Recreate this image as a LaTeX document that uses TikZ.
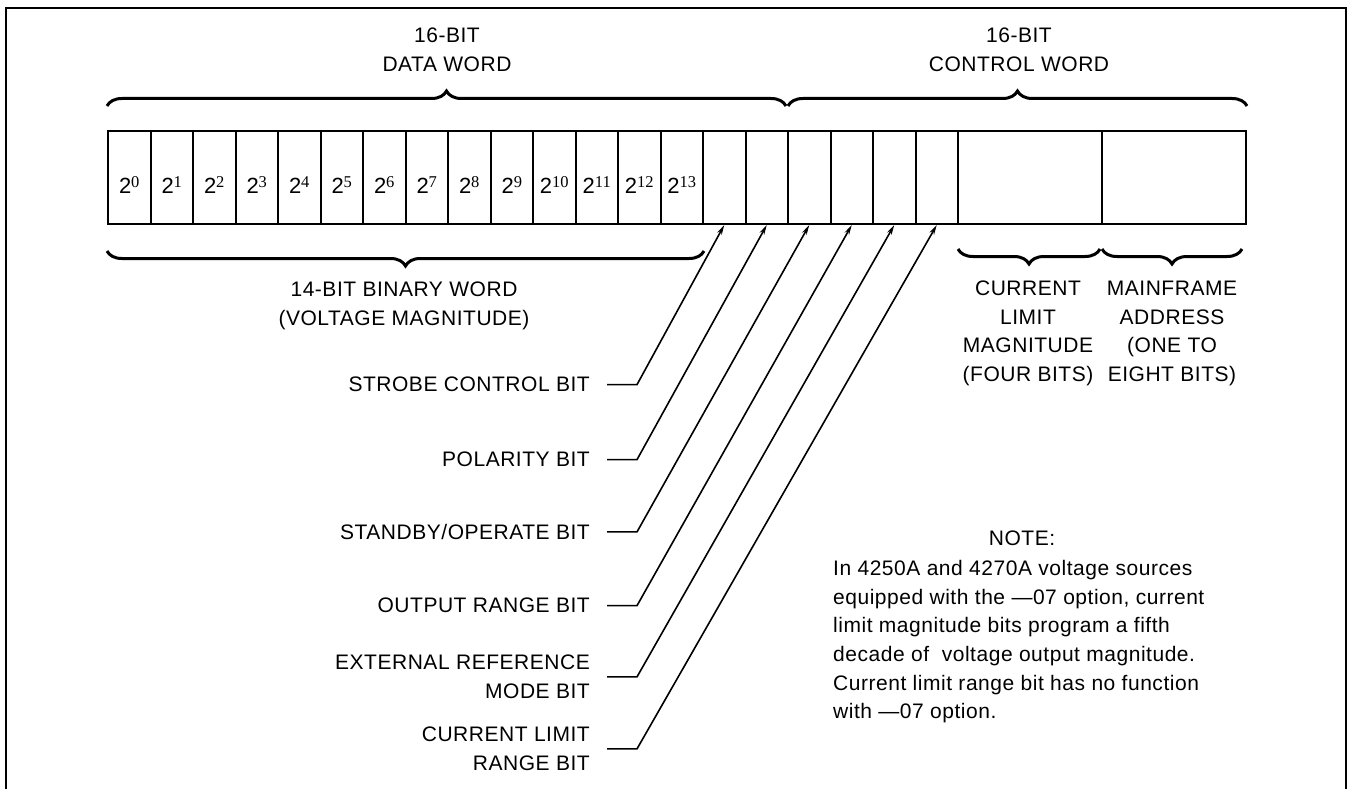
\documentclass[tikz,border=0pt]{standalone}
\usepackage{fontspec}
\setmainfont{Liberation Sans}[LetterSpace=2.5]
\newfontfamily\serifsup{Liberation Serif}
\usetikzlibrary{decorations.pathreplacing,arrows.meta}
\newcommand{\bitlbl}[1]{{\fontsize{22}{22}\selectfont 2\raisebox{6pt}{\serifsup\fontsize{16.5}{16.5}\selectfont #1}}}
\tikzset{
  cell/.style={draw, line width=2pt, minimum width=42.5pt, minimum height=93pt, inner sep=0pt},
  lbl/.style={font=\fontsize{21}{28.5}\selectfont, inner sep=0pt, align=center},
  rlbl/.style={font=\fontsize{21}{28.5}\selectfont, inner sep=0pt, align=right, anchor=north east},
  notetxt/.style={font=\fontsize{21}{28.7}\selectfont, inner sep=0pt, align=left, anchor=north west},
  brc/.style={decorate, decoration={brace, amplitude=15pt}, line width=3pt},
  arr/.style={line width=1.6pt, -{Stealth[length=10pt,width=5pt]}},
  frame/.style={line width=2.2pt}
}
\begin{document}
\begin{tikzpicture}[x=1pt,y=-1pt]
\useasboundingbox (0,0) rectangle (1351,789);
\draw[frame] (6,789) -- (6,8) -- (1346,8) -- (1346,789);

% cells
\foreach \i in {0,...,19} {
  \node[cell] (c\i) at ({108+42.5*(\i+0.5)},177.5) {};
}
\node[cell, minimum width=144pt] (c20) at (1030,177.5) {};
\node[cell, minimum width=144pt] (c21) at (1174,177.5) {};
\foreach \i in {0,...,13} {
  \node[anchor=base, inner sep=0pt] (b\i) at ([yshift=-15.5pt]c\i.center) {\bitlbl{\i}};
}

% braces
\draw[brc] ([yshift=24pt]c0.north west) -- ([xshift=-1pt,yshift=24pt]c16.north west);
\draw[brc] ([xshift=1pt,yshift=24pt]c16.north west) -- ([yshift=24pt]c21.north east);
\draw[brc] ([yshift=-26pt]c13.south east) -- ([yshift=-26pt]c0.south west);
\draw[brc] ([xshift=-3pt,yshift=-24pt]c20.south east) -- ([xshift=1pt,yshift=-24pt]c20.south west);
\draw[brc] ([xshift=-5pt,yshift=-24pt]c21.south east) -- ([xshift=1pt,yshift=-24pt]c21.south west);

% top / bottom texts
\node[lbl, anchor=north] (dw) at (447,28) {16-BIT\\DATA WORD};
\node[lbl, anchor=north] (cw) at (1019,28) {16-BIT\\CONTROL WORD};
\node[lbl, anchor=north] (bw) at (404,282) {14-BIT BINARY WORD\\(VOLTAGE MAGNITUDE)};
\node[lbl, anchor=north] (clm) at (1028,281) {CURRENT\\LIMIT\\MAGNITUDE\\(FOUR BITS)};
\node[lbl, anchor=north] (mfa) at (1172,281) {MAINFRAME\\ADDRESS\\(ONE TO\\EIGHT BITS)};

% left labels
\node[rlbl] (l1) at (590,377) {STROBE CONTROL BIT};
\node[rlbl] (l2) at (590,452) {POLARITY BIT};
\node[rlbl] (l3) at (590,524) {STANDBY/OPERATE BIT};
\node[rlbl] (l4) at (590,598) {OUTPUT RANGE BIT};
\node[rlbl] (l5) at (590,655) {EXTERNAL REFERENCE\\MODE BIT};
\node[rlbl] (l6) at (590,727) {CURRENT LIMIT\\RANGE BIT};

% connectors
\draw[arr] ([xshift=17pt]l1.east) -- ++(30,0) -- (c14.south);
\draw[arr] ([xshift=17pt]l2.east) -- ++(30,0) -- (c15.south);
\draw[arr] ([xshift=17pt]l3.east) -- ++(30,0) -- (c16.south);
\draw[arr] ([xshift=17pt]l4.east) -- ++(30,0) -- (c17.south);
\draw[arr] ([xshift=17pt]l5.east) -- ++(30,0) -- (c18.south);
\draw[arr] ([xshift=17pt]l6.east) -- ++(30,0) -- (c19.south);

% note
\node[lbl, anchor=north] (nh) at (1022,531) {NOTE:};
\node[notetxt] (nb) at (833,560) {In 4250A and 4270A voltage sources\\
equipped with the —07 option, current\\
limit magnitude bits program a fifth\\
decade of~ voltage output magnitude.\\
Current limit range bit has no function\\
with —07 option.};
\end{tikzpicture}
\end{document}
